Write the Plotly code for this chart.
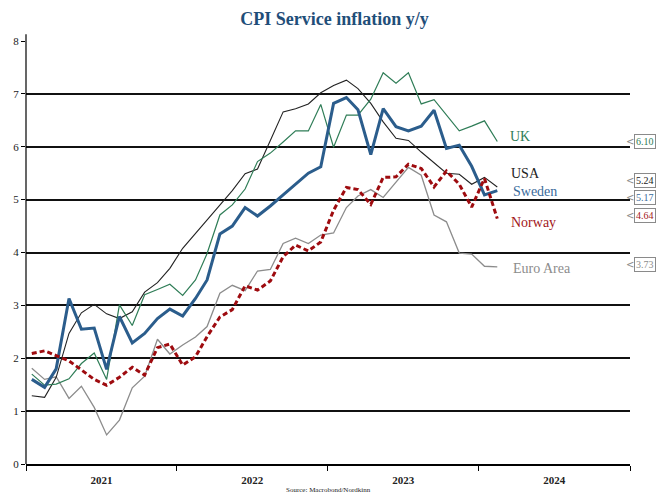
import pandas as pd
import plotly.graph_objects as go

# Monthly observations, Jan 2021 - Feb 2024 (y/y %, CPI services)
start_month = "2021-01-01"
n_months = 38

sweden = [1.60, 1.45, 1.80, 3.13, 2.55, 2.57, 1.79, 2.79, 2.29, 2.47, 2.75, 2.93,
          2.80, 3.13, 3.48, 4.35, 4.50, 4.85, 4.69, 4.88, 5.09, 5.29, 5.50, 5.62,
          6.82, 6.93, 6.70, 5.85, 6.72, 6.38, 6.30, 6.39, 6.69, 5.97, 6.03, 5.63,
          5.09, 5.17]
usa = [1.29, 1.26, 1.64, 2.47, 2.86, 3.02, 2.84, 2.75, 2.88, 3.25, 3.43, 3.70,
       4.08, 4.36, 4.61, 4.90, 5.17, 5.49, 5.58, 6.12, 6.66, 6.72, 6.81, 7.02,
       7.16, 7.26, 7.10, 6.82, 6.47, 6.16, 6.12, 5.90, 5.70, 5.50, 5.48, 5.29,
       5.42, 5.24]
uk = [1.70, 1.49, 1.51, 1.61, 1.90, 2.10, 1.60, 3.01, 2.62, 3.20, 3.30, 3.40,
      3.19, 3.48, 3.98, 4.71, 4.90, 5.20, 5.72, 5.88, 6.09, 6.30, 6.30, 6.80,
      5.99, 6.60, 6.60, 6.90, 7.40, 7.20, 7.40, 6.81, 6.89, 6.60, 6.30, 6.39,
      6.49, 6.10]
norway = [2.09, 2.14, 2.05, 1.95, 1.78, 1.60, 1.49, 1.64, 1.83, 1.68, 2.20, 2.27,
          1.87, 2.03, 2.41, 2.78, 2.92, 3.37, 3.29, 3.46, 3.92, 4.14, 4.03, 4.20,
          4.80, 5.23, 5.19, 4.91, 5.42, 5.43, 5.67, 5.59, 5.24, 5.54, 5.29, 4.86,
          5.40, 4.64]
euro_area = [1.81, 1.60, 1.65, 1.24, 1.47, 1.07, 0.55, 0.83, 1.44, 1.66, 2.36, 2.08,
             2.25, 2.40, 2.60, 3.23, 3.38, 3.28, 3.65, 3.68, 4.17, 4.27, 4.17, 4.33,
             4.37, 4.85, 5.07, 5.19, 5.04, 5.34, 5.61, 5.46, 4.71, 4.58, 3.99, 3.97,
             3.74, 3.73]

series_names = ["UK", "USA", "Sweden", "Norway", "Euro Area"]
latest_labels = ["6.10", "5.24", "5.17", "4.64", "3.73"]

# points sit mid-month
dates = pd.date_range(start_month, periods=n_months, freq="MS") + pd.Timedelta(days=14)

SERIF = "Liberation Serif"

styles = {
    "Euro Area": dict(color="#8c8c8c", width=1.3, dash="solid"),
    "USA": dict(color="#222222", width=1.1, dash="solid"),
    "UK": dict(color="#2f7d57", width=1.2, dash="solid"),
    "Sweden": dict(color="#2b5d8c", width=3, dash="solid"),
    "Norway": dict(color="#9e0b0f", width=3, dash="5px,3px"),
}
label_colors = {
    "UK": "#2f7d57", "USA": "#222222", "Sweden": "#3a6b9c",
    "Norway": "#a3161a", "Euro Area": "#8c8c8c",
}
values = {"UK": uk, "USA": usa, "Sweden": sweden, "Norway": norway, "Euro Area": euro_area}

fig = go.Figure()
for name in ["Euro Area", "USA", "UK", "Sweden", "Norway"]:
    s = styles[name]
    fig.add_trace(go.Scatter(
        x=dates, y=values[name], mode="lines", name=name,
        line=dict(color=s["color"], width=s["width"], dash=s["dash"]),
        showlegend=False,
    ))

# series names placed beside the line ends
name_pos = {"UK": 6.20, "USA": 5.50, "Sweden": 5.16, "Norway": 4.57, "Euro Area": 3.70}
name_x = {"UK": 0.798, "USA": 0.800, "Sweden": 0.803, "Norway": 0.800, "Euro Area": 0.803}
for name in series_names:
    fig.add_annotation(
        x=name_x[name], xref="paper", y=name_pos[name], yref="y",
        text=name, showarrow=False, xanchor="left", yanchor="middle",
        font=dict(family=SERIF, size=14, color=label_colors[name]),
    )

# boxed latest values at the right edge, each with a small pointer
box_shift = {"UK": 0, "USA": 6, "Sweden": -7, "Norway": 3, "Euro Area": 2}
for name, lab in zip(series_names, latest_labels):
    v = float(lab)
    fig.add_annotation(
        x=1.006, xref="paper", y=v, yref="y", yshift=box_shift[name],
        text=lab, showarrow=False, xanchor="left", yanchor="middle",
        font=dict(family=SERIF, size=10, color=label_colors[name]),
        bgcolor="white", bordercolor="#8a8a8a", borderwidth=1, borderpad=1,
    )
    fig.add_annotation(
        x=1.0095, xref="paper", y=v, yref="y", yshift=box_shift[name],
        text="<", showarrow=False, xanchor="right", yanchor="middle",
        font=dict(family="DejaVu Sans", size=10, color="#8a8a8a"),
    )

fig.add_annotation(
    x=0.5, xref="paper", y=-0.062, yref="paper",
    text="Source: Macrobond/Nordkinn", showarrow=False,
    xanchor="center", yanchor="middle",
    font=dict(family=SERIF, size=7, color="#222222"),
)

# y axis line runs slightly above the top gridline
fig.add_shape(type="line", xref="paper", yref="paper", x0=0, x1=0, y0=0, y1=1.016,
              line=dict(color="black", width=1.2))

fig.update_layout(
    width=669, height=497,
    margin=dict(l=26, r=39, t=41, b=33),
    paper_bgcolor="white", plot_bgcolor="white",
    title=dict(
        text="<b>CPI Service inflation y/y</b>",
        x=0.5, xref="container", xanchor="center",
        y=0.962, yref="container", yanchor="middle",
        font=dict(family=SERIF, size=18, color="#1f4e79"),
    ),
    font=dict(family=SERIF, color="#222222"),
)

fig.update_xaxes(
    range=["2021-01-01", "2025-01-01"],
    tickformat="%Y", dtick="M12", tick0="2021-01-01", ticklabelmode="period",
    ticks="outside", ticklen=5, tickcolor="black", tickwidth=1,
    showline=True, linecolor="black", linewidth=1.8,
    showgrid=False, zeroline=False,
    tickfont=dict(family=SERIF, size=11, color="#222222", weight="bold"),
)
fig.update_yaxes(
    range=[0, 8], dtick=1, tick0=0,
    ticks="outside", ticklen=4, tickcolor="black",
    showline=False, showgrid=True, gridcolor="#111111", gridwidth=1.7,
    zeroline=False,
    tickfont=dict(family=SERIF, size=11, color="#222222"),
)

fig.write_html("out.html")
